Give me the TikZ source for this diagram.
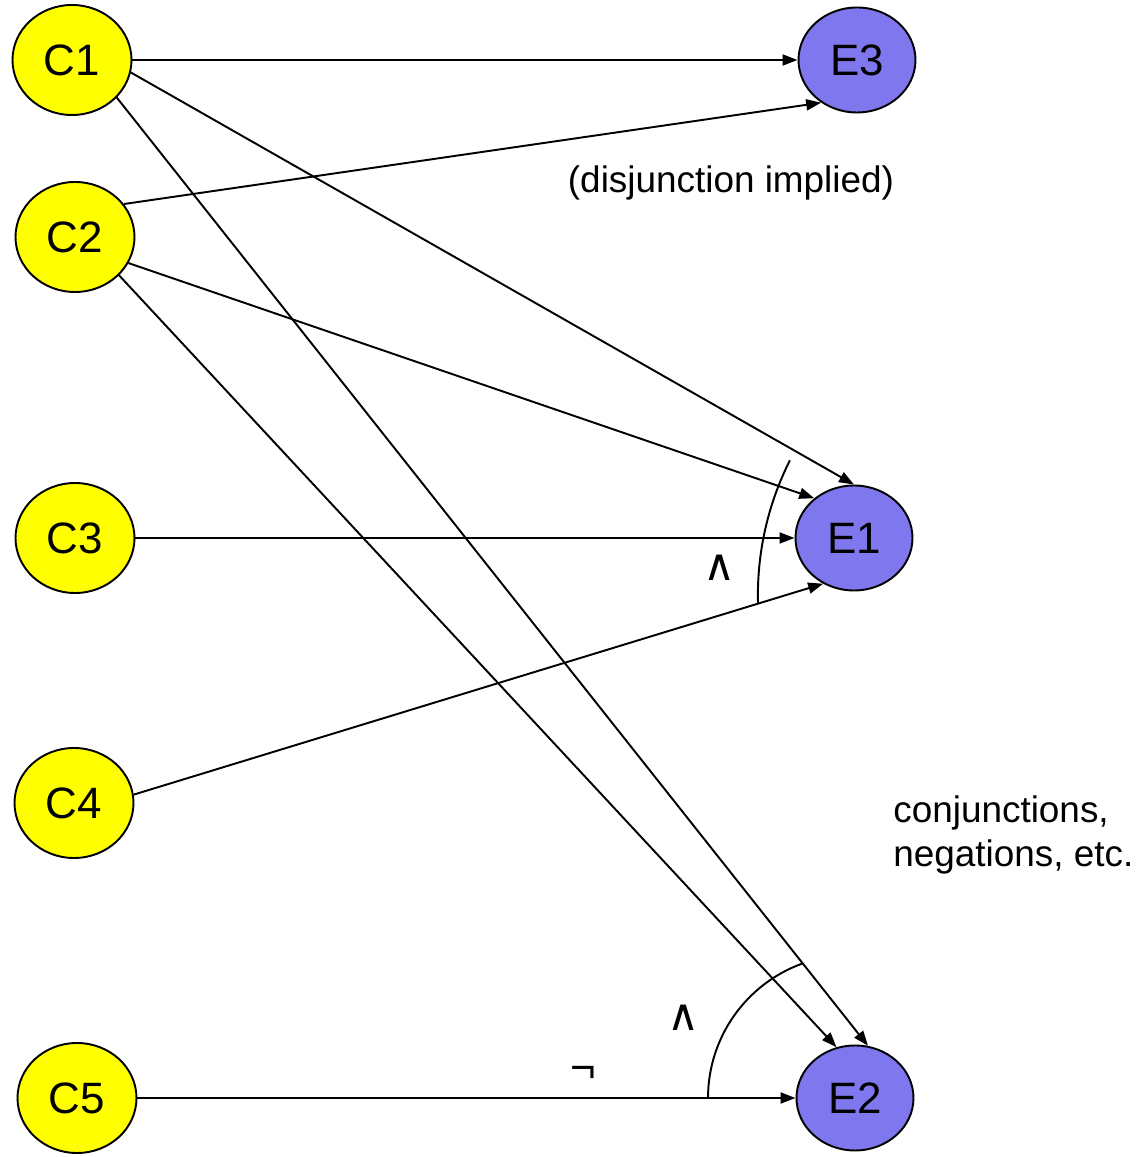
\documentclass[tikz,border=0pt]{standalone}
\usepackage{fontspec}
\setmainfont{Liberation Sans}
\newfontfamily\symfont{DejaVu Sans}
\usetikzlibrary{arrows.meta,shapes.geometric}
\definecolor{causecol}{RGB}{255,255,0}
\definecolor{effectcol}{RGB}{127,119,238}

\begin{document}
\begin{tikzpicture}[
	cause/.style={ellipse,draw,line width=1.1pt,fill=causecol,inner sep=0pt,minimum width=2.38cm,minimum height=2.2cm,font=\fontsize{25}{30}\selectfont},
	effect/.style={ellipse,draw,line width=1.1pt,fill=effectcol,inner sep=0pt,minimum width=2.34cm,minimum height=2.1cm,font=\fontsize{25}{30}\selectfont},
	link/.style={line width=1.1pt,-{Triangle[length=3mm,width=2.2mm]}},
	note/.style={font=\fontsize{21}{25}\selectfont,inner sep=0pt},
	sym/.style={font=\fontsize{25}{30}\selectfont,inner sep=0pt}
	]
	\useasboundingbox (0,0) rectangle (22.86,23.14);
	\node[cause] (C1) at (1.44,21.94) {C1};
	\node[cause] (C2) at (1.50,18.40) {C2};
	\node[cause] (C3) at (1.50,12.38) {C3};
	\node[cause] (C4) at (1.48,7.08) {C4};
	\node[cause] (C5) at (1.54,1.18) {C5};
	\node[effect] (E3) at (17.14,21.94) {E3};
	\node[effect] (E1) at (17.08,12.38) {E1};
	\node[effect] (E2) at (17.10,1.18) {E2};
	\draw[link] (C1.east) -- (E3.west);
	\draw[link] (C1.-12) -- (E1.north);
	\draw[link] (C1.-40) -- (E2.76);
	\draw[link] (C2.34) -- (E3.230);
	\draw[link] (C2.-26) -- (E1.135);
	\draw[link] (C2.-41) -- (E2.110);
	\draw[link] (C3.east) -- (E1.west);
	\draw[link] (C4.8) -- (E1.236);
	\draw[link] (C5.east) -- (E2.west);
	\draw[line width=1.1pt] (15.16,11.08) arc[start angle=181.5,end angle=153.3,radius=6cm];
	\draw[line width=1.1pt] (14.16,1.18) arc[start angle=180,end angle=110,radius=2.86cm];
	\node[note] (dis) at (14.62,19.48) {(disjunction implied)};
	\node[note,anchor=west,align=left] (conj) at (17.86,6.44) {conjunctions,\\negations, etc.};
	\node[sym] (and1) at (14.40,11.78) {\symfont ∧};
	\node[sym] (and2) at (13.68,2.78) {\symfont ∧};
	\node[sym] (neg) at (11.66,1.66) {¬};
\end{tikzpicture}
\end{document}
